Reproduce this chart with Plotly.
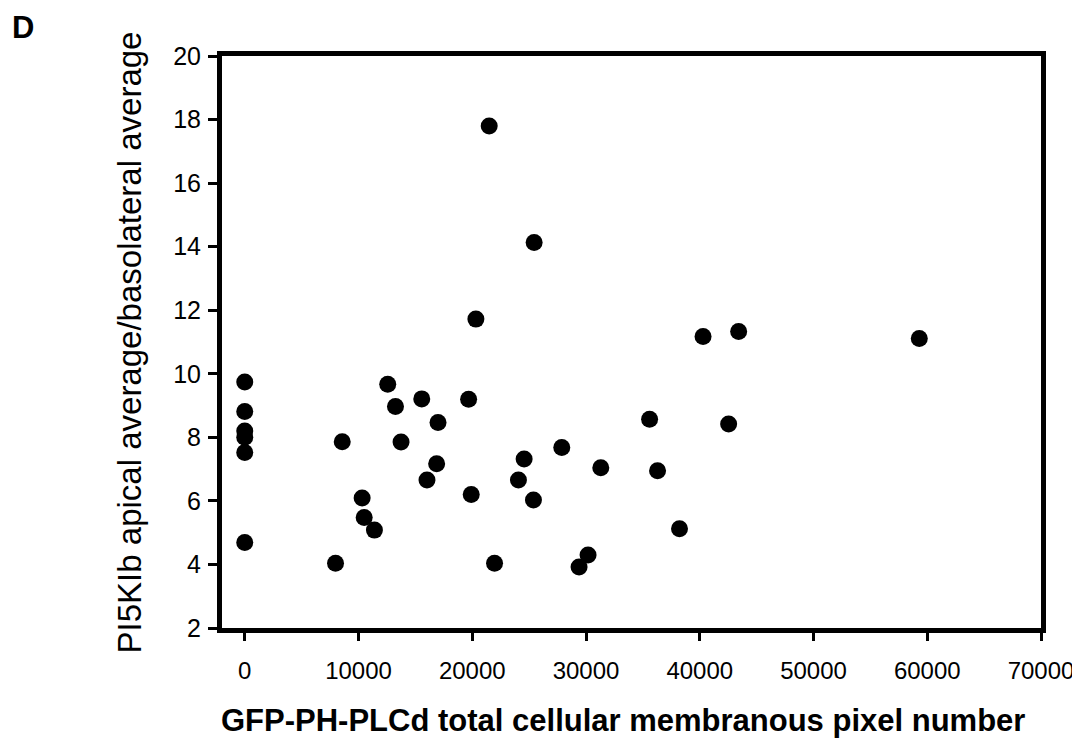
import plotly.graph_objects as go

x_pixels = [0, 0, 0, 0, 0, 0,
            8570, 7980, 10320, 10500, 11400,
            12570, 13250, 13740, 15560, 16990, 16870, 16020,
            19680, 19910, 20320, 21490, 21960,
            24560, 24060, 25380, 25440, 27870,
            31300, 29390, 30180,
            35590, 36290, 38220, 40290, 42540, 43420, 59300]
y_ratio = [9.74, 8.81, 8.2, 8.0, 7.52, 4.69,
           7.86, 4.04, 6.09, 5.48, 5.08,
           9.67, 8.97, 7.85, 9.21, 8.47, 7.17, 6.66,
           9.2, 6.2, 11.72, 17.8, 4.04,
           7.32, 6.66, 6.03, 14.13, 7.68,
           7.04, 3.92, 4.3,
           8.57, 6.95, 5.12, 11.17, 8.42, 11.33, 11.11]

x_ticks = [0, 10000, 20000, 30000, 40000, 50000, 60000, 70000]
y_ticks = [2, 4, 6, 8, 10, 12, 14, 16, 18, 20]

x_title = "GFP-PH-PLCd total cellular membranous pixel number"
y_title = "PI5KIb apical average/basolateral average"
panel_label = "D"

FONT = "Liberation Sans, Arial, sans-serif"

fig = go.Figure()
fig.add_trace(go.Scatter(
    x=x_pixels, y=y_ratio, mode="markers",
    marker=dict(color="black", size=17, line=dict(width=0)),
    showlegend=False, cliponaxis=False,
))

fig.update_layout(
    width=1080, height=744,
    margin=dict(l=214, r=47, t=48, b=124),
    paper_bgcolor="white", plot_bgcolor="white",
    font=dict(family=FONT, color="black"),
    xaxis=dict(
        range=[-2000, 70000], tickvals=x_ticks,
        ticktext=[str(v) for v in x_ticks],
        showgrid=False, zeroline=False,
        showline=True, linecolor="black", linewidth=5, mirror=True,
        ticks="outside", ticklen=8, tickwidth=3, tickcolor="black",
        ticklabelstandoff=9,
        tickfont=dict(size=24, family=FONT),
    ),
    yaxis=dict(
        range=[2, 20], tickvals=y_ticks,
        showgrid=False, zeroline=False,
        showline=True, linecolor="black", linewidth=5, mirror=True,
        ticks="outside", ticklen=9, tickwidth=3, tickcolor="black",
        ticklabelstandoff=2,
        tickfont=dict(size=25, family=FONT),
    ),
    annotations=[
        dict(text=y_title, textangle=-90, xref="paper", yref="paper",
             x=-0.113, y=0.5, xanchor="center", yanchor="middle",
             showarrow=False, font=dict(size=33, family=FONT)),
        dict(text="<b>" + x_title + "</b>", xref="paper", yref="paper",
             x=0.4896, y=-0.161, xanchor="center", yanchor="middle",
             showarrow=False, font=dict(size=31, family=FONT)),
        dict(text="<b>" + panel_label + "</b>", xref="paper", yref="paper",
             x=-0.2589, y=1.0839, xanchor="left", yanchor="top",
             showarrow=False, font=dict(size=31, family=FONT)),
    ],
)

fig.write_html("out.html")
